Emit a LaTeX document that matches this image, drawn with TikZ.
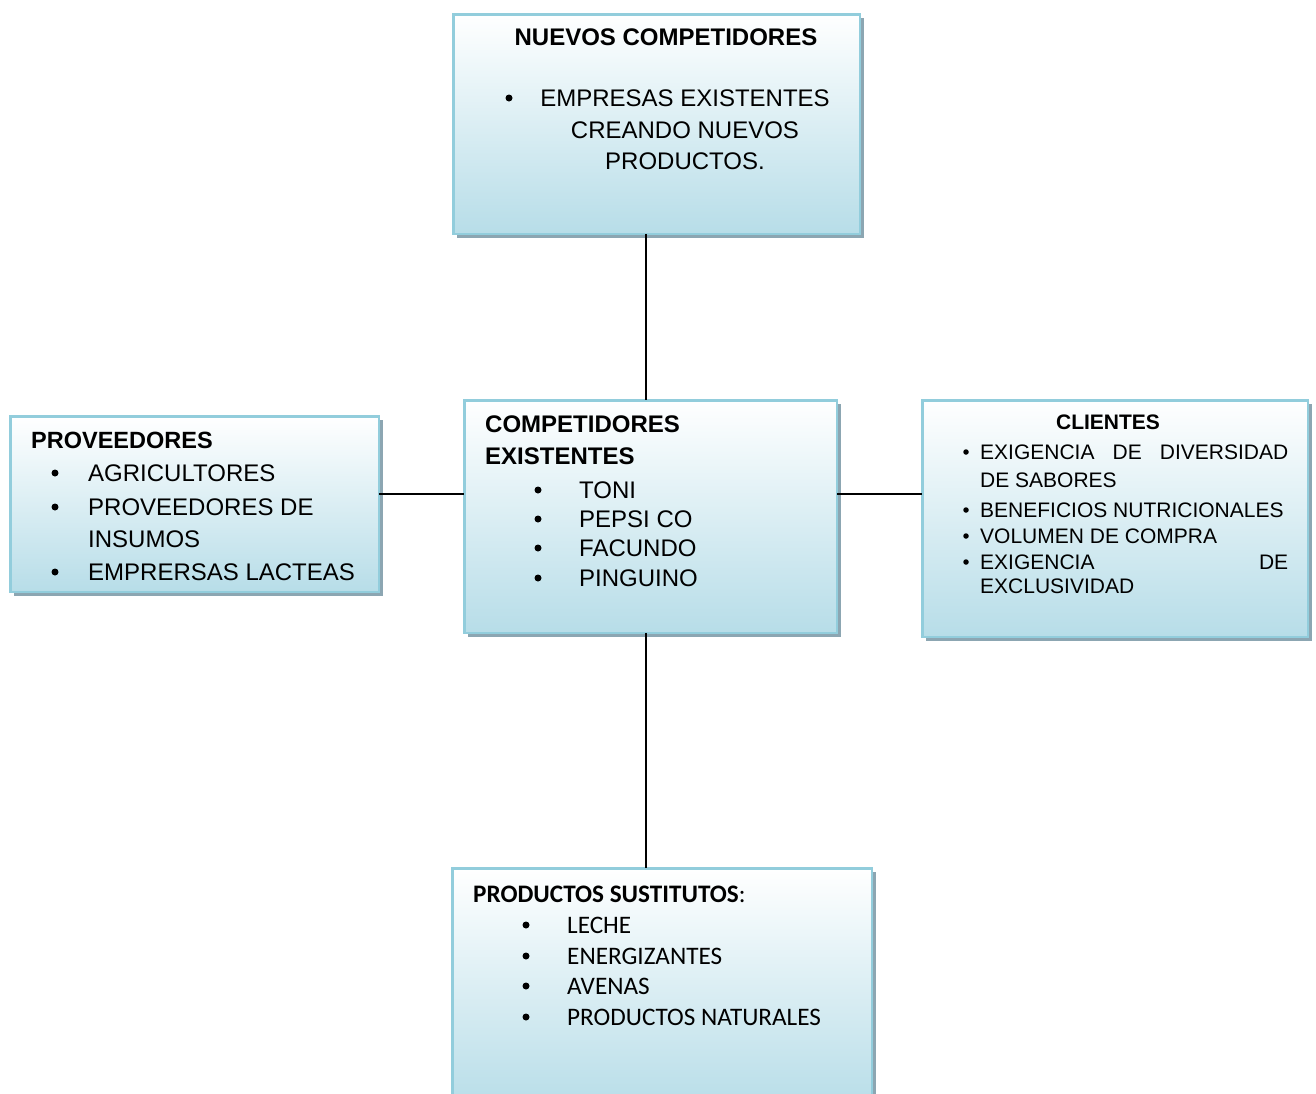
\documentclass[tikz,border=0pt]{standalone}
\usepackage{fontspec}
\setmainfont{Liberation Sans}
\newfontfamily\calib{Carlito}
\usetikzlibrary{shadows,calc}
\definecolor{bord}{RGB}{146,205,220}
\definecolor{lblue}{RGB}{183,221,232}
\definecolor{shad}{RGB}{140,166,178}
\tikzset{
  box/.style={draw=bord, line width=2.5pt, top color=white, bottom color=lblue,
    inner sep=0, outer sep=0, anchor=north west,
    drop shadow={shadow xshift=4pt, shadow yshift=-4pt, fill=shad, opacity=1}},
  conn/.style={draw=black, line width=1.4pt},
  txt/.style={anchor=base west, inner sep=0, font=\fontsize{24}{28}\selectfont},
  ctxt/.style={anchor=base, inner sep=0, font=\fontsize{24}{28}\selectfont},
  stxt/.style={anchor=base west, inner sep=0, font=\fontsize{21}{25}\selectfont},
  ktxt/.style={anchor=base west, inner sep=0, font=\calib\fontsize{25.2}{28}\selectfont},
  dot/.style={circle, fill=black, inner sep=0, minimum size=7pt},
  sdot/.style={circle, fill=black, inner sep=0, minimum size=5.5pt}
}
\begin{document}
\begin{tikzpicture}[x=1pt,y=-1pt]
\useasboundingbox (0,0) rectangle (1316,1093);
\fill[white] (0,0) rectangle (1316,1093);

% boxes
\node[box, minimum width=406.5pt, minimum height=219.5pt] (nc) at (453.25,14.25) {};
\node[box, minimum width=368.5pt, minimum height=175.5pt] (pv) at (10.25,416.25) {};
\node[box, minimum width=372.5pt, minimum height=232.5pt] (ce) at (464.25,400.25) {};
\node[box, minimum width=385.5pt, minimum height=236.5pt] (cl) at (922.25,400.25) {};
\node[box, minimum width=419.5pt, minimum height=240pt] (ps) at (452.25,868.25) {};

% connectors
\coordinate (vx) at (646,0);
\coordinate (hy) at (0,494);
\draw[conn] (nc.south -| vx) -- (ce.north -| vx);
\draw[conn] (ce.south -| vx) -- (ps.north -| vx);
\draw[conn] (pv.east |- hy) -- (ce.west |- hy);
\draw[conn] (ce.east |- hy) -- (cl.west |- hy);

% NUEVOS COMPETIDORES
\node[ctxt, font=\fontsize{24}{28}\selectfont\bfseries] (nct) at (666,45.5) {NUEVOS COMPETIDORES};
\node[dot] (ncb1) at (509,98) {};
\node[ctxt] (nc1) at (685,106.5) {EMPRESAS EXISTENTES};
\node[ctxt] (nc2) at (685,138.5) {CREANDO NUEVOS};
\node[ctxt] (nc3) at (685,169.5) {PRODUCTOS.};

% PROVEEDORES
\node[txt, font=\fontsize{23.5}{28}\selectfont\bfseries] (pvt) at (31,448.5) {PROVEEDORES};
\node[dot] (pvb1) at (55,473) {};
\node[dot] (pvb2) at (55,507) {};
\node[dot] (pvb3) at (55,572) {};
\node[txt] (pv1) at (88,481.5) {AGRICULTORES};
\node[txt] (pv2) at (88,515.5) {PROVEEDORES DE};
\node[txt] (pv3) at (88,547.5) {INSUMOS};
\node[txt] (pv4) at (88,580.5) {EMPRERSAS LACTEAS};

% COMPETIDORES EXISTENTES
\node[txt, font=\fontsize{24}{28}\selectfont\bfseries] (cet1) at (485,432.5) {COMPETIDORES};
\node[txt, font=\fontsize{24}{28}\selectfont\bfseries] (cet2) at (485,464.5) {EXISTENTES};
\node[dot] (ceb1) at (538,490) {};
\node[dot] (ceb2) at (538,519) {};
\node[dot] (ceb3) at (538,548) {};
\node[dot] (ceb4) at (538,578) {};
\node[txt] (ce1) at (579,498.5) {TONI};
\node[txt] (ce2) at (579,527.5) {PEPSI CO};
\node[txt] (ce3) at (579,556.5) {FACUNDO};
\node[txt] (ce4) at (579,586.5) {PINGUINO};

% CLIENTES
\node[anchor=base, inner sep=0, font=\fontsize{21}{25}\selectfont\bfseries] (clt) at (1108,429.5) {CLIENTES};
\node[sdot] (clb1) at (966,452) {};
\node[sdot] (clb2) at (966,510) {};
\node[sdot] (clb3) at (966,536) {};
\node[sdot] (clb4) at (966,562) {};
\node[stxt] (cl1) at (980,459.5) {\makebox[308pt][s]{EXIGENCIA\hfill DE\hfill DIVERSIDAD}};
\node[stxt] (cl2) at (980,487.5) {DE SABORES};
\node[stxt] (cl3) at (980,517.5) {BENEFICIOS NUTRICIONALES};
\node[stxt] (cl4) at (980,543.5) {VOLUMEN DE COMPRA};
\node[stxt] (cl5) at (980,569.5) {\makebox[308pt][s]{EXIGENCIA\hfill DE}};
\node[stxt] (cl6) at (980,593.5) {EXCLUSIVIDAD};

% PRODUCTOS SUSTITUTOS
\node[ktxt] (pst) at (473,902) {\textbf{PRODUCTOS SUSTITUTOS}:};
\node[dot] (psb1) at (526,925) {};
\node[dot] (psb2) at (526,956) {};
\node[dot] (psb3) at (526,986) {};
\node[dot] (psb4) at (526,1017) {};
\node[ktxt] (ps1) at (567,933) {LECHE};
\node[ktxt] (ps2) at (567,964) {ENERGIZANTES};
\node[ktxt] (ps3) at (567,994) {AVENAS};
\node[ktxt] (ps4) at (567,1025) {PRODUCTOS NATURALES};
\end{tikzpicture}
\end{document}
